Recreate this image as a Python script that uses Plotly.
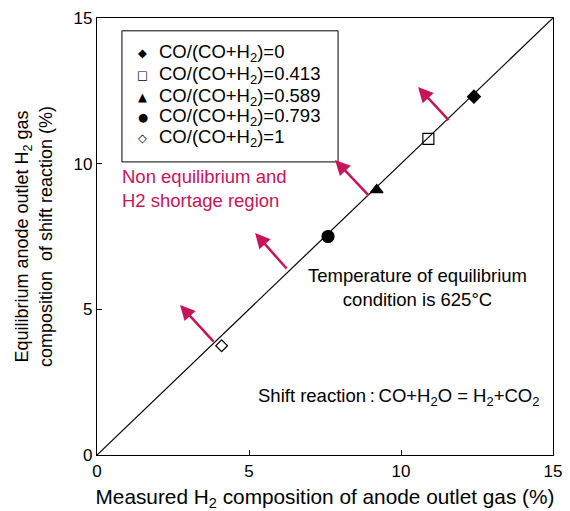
import plotly.graph_objects as go

# Data
labels = ["CO/(CO+H<sub>2</sub>)=0", "CO/(CO+H<sub>2</sub>)=0.413", "CO/(CO+H<sub>2</sub>)=0.589",
          "CO/(CO+H<sub>2</sub>)=0.793", "CO/(CO+H<sub>2</sub>)=1"]
measured = [12.4, 10.9, 9.2, 7.6, 4.1]
equilibrium = [12.3, 10.85, 9.1, 7.5, 3.75]
symbols = ["diamond", "square-open", "triangle-up", "circle", "diamond-open"]
legend_glyphs = ["◆", "□", "▲", "●", "◇"]
sizes = [10, 11, 11, 12, 9]

line_x = [0, 15]
line_y = [0, 15]

arrow_tail_x = [11.61, 8.98, 6.28, 3.88]
arrow_tail_y = [11.44, 8.86, 6.35, 3.84]
arrow_head_x = [10.56, 7.83, 5.2, 2.73]
arrow_head_y = [12.63, 10.13, 7.62, 5.15]

x_ticks = [0, 5, 10, 15]
y_ticks = [0, 5, 10, 15]

crimson = "#C8145A"
font = "Liberation Sans, Arial, sans-serif"

fig = go.Figure()
fig.add_trace(go.Scatter(x=line_x, y=line_y, mode="lines",
                         line=dict(color="black", width=1.2), showlegend=False, hoverinfo="skip"))
for lab, xv, yv, sym, sz in zip(labels, measured, equilibrium, symbols, sizes):
    fig.add_trace(go.Scatter(x=[xv], y=[yv], mode="markers", name=lab, showlegend=False,
                             marker=dict(symbol=sym, size=sz, color="black",
                                         line=dict(color="black", width=1.2))))

for tx, ty, hx, hy in zip(arrow_tail_x, arrow_tail_y, arrow_head_x, arrow_head_y):
    fig.add_annotation(x=hx, y=hy, ax=tx, ay=ty, xref="x", yref="y", axref="x", ayref="y",
                       text="", showarrow=True, arrowhead=2, arrowsize=1.2, arrowwidth=2.5,
                       arrowcolor=crimson)

# legend box and entries
fig.add_shape(type="rect", xref="x", yref="y", x0=0.82, x1=7.93, y0=10.06, y1=14.56,
              line=dict(color="black", width=1))
legend_rows_y = [13.8, 13.04, 12.29, 11.6, 10.88]
for glyph, lab, ry in zip(legend_glyphs, labels, legend_rows_y):
    fig.add_annotation(x=1.51, y=ry, xref="x", yref="y", xanchor="center", yanchor="middle",
                       text=glyph, showarrow=False,
                       font=dict(size=11.5, color="black", family="DejaVu Sans"))
    fig.add_annotation(x=1.98, y=ry, xref="x", yref="y", xanchor="left", yanchor="middle",
                       text=lab, showarrow=False,
                       font=dict(size=18.5, color="black", family=font))

fig.add_annotation(x=0.75, y=9.15, xref="x", yref="y", xanchor="left", yanchor="middle",
                   text="Non equilibrium and<br>H2 shortage region", showarrow=False, align="left",
                   font=dict(color=crimson, size=18.5, family=font))
fig.add_annotation(x=10.55, y=5.75, xref="x", yref="y", xanchor="center", yanchor="middle",
                   text="Temperature of equilibrium<br>condition is 625°C", showarrow=False, align="center",
                   font=dict(color="black", size=18.5, family=font))
fig.add_annotation(x=14.6, y=1.98, xref="x", yref="y", xanchor="right", yanchor="middle",
                   text="Shift reaction\u2009:\u2009CO+H<sub>2</sub>O = H<sub>2</sub>+CO<sub>2</sub>", showarrow=False,
                   font=dict(color="black", size=18.5, family=font))

axis_common = dict(range=[0, 15], showgrid=False, zeroline=False, showline=True, linecolor="black",
                   linewidth=1.2, mirror=True, ticks="inside", ticklen=5, tickcolor="black",
                   automargin=False,
                   tickfont=dict(size=17, color="black", family=font))
fig.update_xaxes(**axis_common, tickvals=x_ticks,
                 title=dict(text="Measured H<sub>2</sub> composition of anode outlet gas (%)",
                            font=dict(size=20.8, color="black", family=font), standoff=13))
fig.update_yaxes(**axis_common, tickvals=y_ticks,
                 title=dict(text="Equilibrium anode outlet H<sub>2</sub> gas<br>composition  of shift reaction (%)",
                            font=dict(size=18, color="black", family=font), standoff=16))

# page body has an 8px margin, so the figure is drawn 8px smaller and offset
fig.update_layout(width=562, height=503, margin=dict(l=89, r=17, t=10, b=56),
                  plot_bgcolor="white", paper_bgcolor="white", showlegend=False)

fig.write_html("out.html")
